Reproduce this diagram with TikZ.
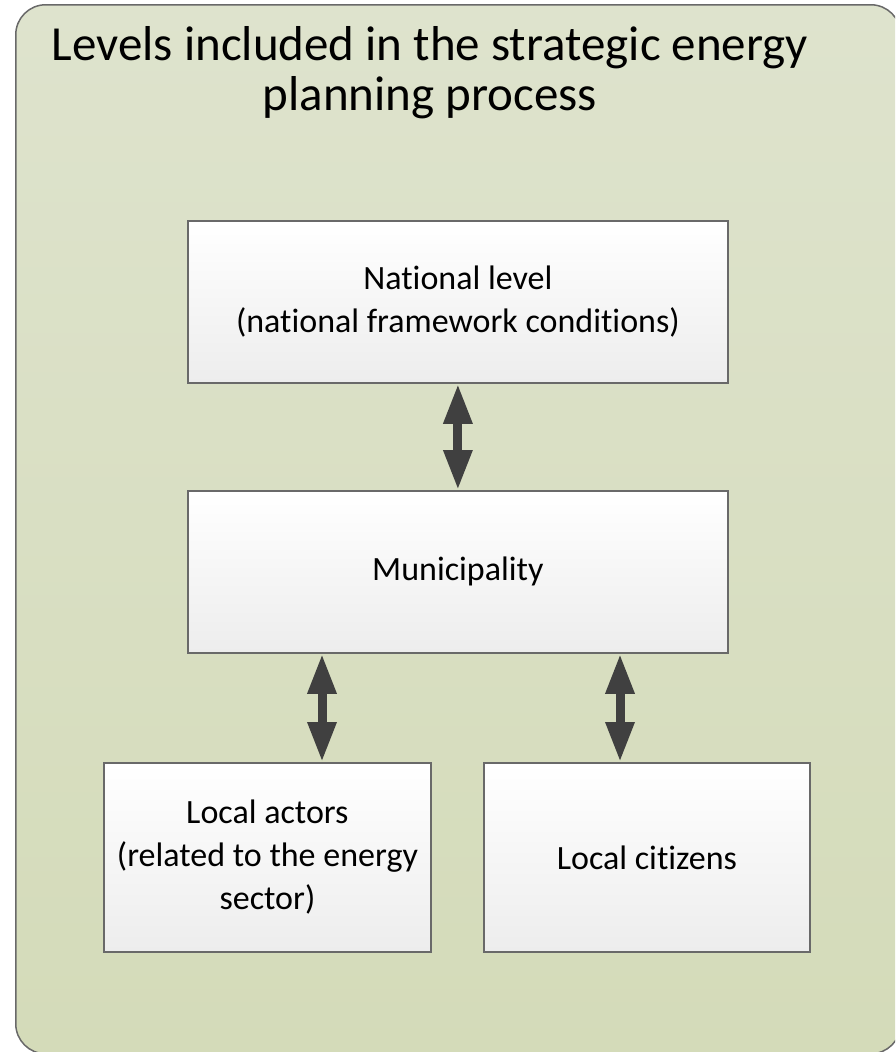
\documentclass[tikz,border=0pt]{standalone}
\usepackage{fontspec}
\setmainfont{Carlito}[RawFeature=-liga]
\usetikzlibrary{arrows.meta}
\definecolor{bgtop}{RGB}{222,227,205}
\definecolor{bgbot}{RGB}{212,219,185}
\definecolor{boxline}{RGB}{105,105,105}
\definecolor{arrowc}{RGB}{64,64,64}
\definecolor{boxbot}{RGB}{237,237,237}
\tikzset{
  levelbox/.style={draw=boxline, line width=1.8pt, top color=white, bottom color=boxbot,
    align=center, inner sep=0pt, font=\fontsize{34}{43}\selectfont, text=black},
  dblarrow/.style={draw=arrowc, line width=9pt,
    {Triangle[width=27pt,length=40pt]}-{Triangle[width=27pt,length=40pt]}},
}
\begin{document}
\begin{tikzpicture}[x=1pt,y=-1pt]
\useasboundingbox (0,0) rectangle (895,1052);
\begin{scope}
\clip (0,0) rectangle (895,1052);
\node[draw=boxline, line width=1.5pt, rounded corners=30pt, top color=bgtop, bottom color=bgbot,
  minimum width=885pt, minimum height=1049pt, anchor=north west, inner sep=0pt] (bg) at (15,4) {};
\end{scope}
\node[align=center, font=\fontsize{49}{50}\selectfont] (title) at (430,73)
  {Levels included in the strategic energy\\planning process};
\node[levelbox, minimum width=540pt, minimum height=162pt, anchor=north west] (nat) at (187,220)
  {National level\\(national framework conditions)};
\node[levelbox, minimum width=540pt, minimum height=162pt, anchor=north west] (mun) at (187,490)
  {Municipality};
\node[levelbox, minimum width=327pt, minimum height=189pt, anchor=north west] (act) at (103,762)
  {Local actors\\(related to the energy\\sector)};
\node[levelbox, minimum width=326pt, minimum height=189pt, anchor=north west] (cit) at (483,762)
  {Local citizens};
\draw[dblarrow] (nat.south) -- (mun.north);
\coordinate (a1) at (mun.south -| 322,0);
\draw[dblarrow] (a1) -- (a1 |- act.north);
\coordinate (a2) at (mun.south -| 620,0);
\draw[dblarrow] (a2) -- (a2 |- cit.north);
\end{tikzpicture}
\end{document}
